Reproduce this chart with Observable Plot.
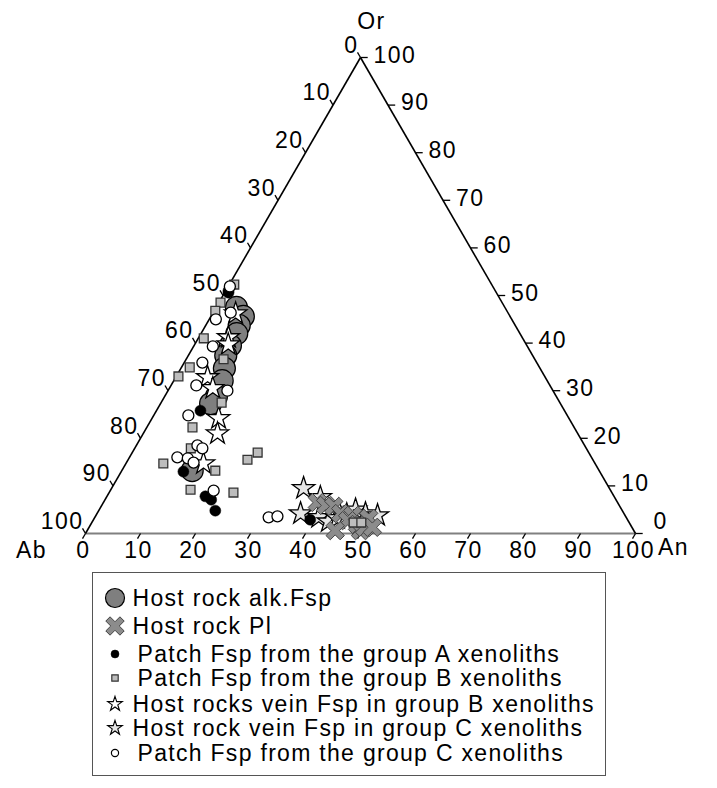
<!DOCTYPE html>
<html><head><meta charset="utf-8">
<script src="https://cdn.jsdelivr.net/npm/d3@7"></script>
<script src="https://cdn.jsdelivr.net/npm/@observablehq/plot@0.6"></script>
<style>
body{margin:0;background:#fff;font-family:"Liberation Sans",Arial,sans-serif;}
#wrap{position:relative;width:717px;height:788px;}
#chart svg text{letter-spacing:1.5px;}
#legend{position:absolute;left:92px;top:572px;width:514px;height:204px;border:1.5px solid #555;box-sizing:border-box;}
.row{position:absolute;left:0;height:26px;line-height:26px;font-size:23px;letter-spacing:1.3px;white-space:nowrap;color:#000;}
.row svg{position:absolute;top:0;}
.row span{position:absolute;top:0;}
</style></head><body><div id="wrap"><div id="chart"></div><div id="legend"></div></div>
<script>
// tick values / labels for the three axes
const tickValues = [0,10,20,30,40,50,60,70,80,90,100];
const tickLabels = tickValues.map(String);
const axisTitles = ["Ab","An","Or"];

// data rows: [Ab, An, Or] in percent
const hostAlkFsp = [
  [48.8,3.7,47.5],[48.5,5.9,45.6],[50.2,6.1,43.7],[51.5,6.5,42.0],[53.9,6.6,39.5],
  [55.8,6.8,37.4],[57.4,7.9,34.7],[59.1,8.8,32.1],[61.8,9.4,28.8],[63.6,9.1,27.3],[74.0,12.8,13.2]
];
const hostPl = [
  [54.6,38.9,6.5],[53.4,40.7,5.9],[52.0,42.3,5.7],[51.5,44.3,4.2],[49.5,46.7,3.8],[51.0,46.3,2.7],
  [49.6,48.5,1.9],[54.3,45.1,0.6],[49.7,49.7,0.6],[48.6,50.1,1.3],[46.9,49.9,3.2],[47.2,51.5,1.3]
];
const patchA = [
  [48.5,0.5,51.0],[48.7,0.7,50.6],[66.2,8.0,25.8],[75.7,11.3,13.0],[74.3,17.9,7.8],
  [73.6,19.3,7.1],[74.0,21.2,4.8],[57.7,39.4,2.9]
];
const patchB = [
  [46.8,0.9,52.3],[51.2,0.3,48.5],[53.0,0.2,46.8],[58.0,1.0,41.0],[63.6,1.5,34.9],[66.6,0.4,33.0],
  [56.6,6.8,36.6],[61.5,11.0,27.5],[69.4,8.3,22.3],[71.9,10.2,17.9],[78.5,6.8,14.7],[69.8,17.0,13.2],
  [76.3,14.5,9.2],[62.8,21.7,15.5],[60.2,22.8,17.0],[68.8,22.6,8.6],[50.1,47.6,2.3],[48.7,49.0,2.3]
];
const veinB = [
  [49.6,4.2,46.2],[53.4,5.4,41.2],[54.2,6.1,39.7],[61.4,5.8,32.8],[61.6,7.9,30.5],
  [63.7,12.1,24.2],[65.5,13.5,21.0],[71.2,14.1,14.7]
];
const veinC = [
  [55.6,34.9,9.5],[53.5,38.9,7.6],[58.8,37.0,4.2],[55.9,40.7,3.4],[54.6,42.9,2.5],[51.6,43.6,4.8],
  [52.6,44.2,3.2],[50.5,45.5,4.0],[48.4,46.6,5.0],[47.0,48.8,4.2],[45.0,51.2,3.8]
];
const patchC = [
  [47.8,0.3,51.9],[50.4,3.2,46.4],[53.8,1.2,45.0],[57.2,3.5,39.3],[60.8,3.3,35.9],[64.3,4.6,31.1],
  [59.2,10.8,30.0],[68.9,6.3,24.8],[70.4,11.1,18.5],[69.8,12.3,17.9],[75.3,8.7,16.0],[73.5,10.7,15.8],
  [72.9,12.2,14.9],[72.2,18.8,9.0],[65.0,31.6,3.4],[63.3,33.1,3.6]
];
const legendLabels = [
  "Host rock alk.Fsp",
  "Host rock Pl",
  "Patch Fsp from the group A xenoliths",
  "Patch Fsp from the group B xenoliths",
  "Host rocks vein Fsp in group B xenoliths",
  "Host rock vein Fsp in group C xenoliths",
  "Patch Fsp from the group C xenoliths"
];

const S = Math.sqrt(3) / 2;
const tx = d => d[1] + d[2] / 2;   // An + Or/2
const ty = d => d[2] * S;          // Or * sqrt(3)/2

// thick X symbol
const symbolThickX = {
  draw(ctx, size) {
    const r = Math.sqrt(size / Math.PI), L = r, t = r * 0.3;
    const pts = [[-t,-L],[t,-L],[t,-t],[L,-t],[L,t],[t,t],[t,L],[-t,L],[-t,t],[-L,t],[-L,-t],[-t,-t]];
    const c = Math.SQRT1_2;
    pts.forEach(([x,y],i) => {
      const X = (x - y) * c, Y = (x + y) * c;
      i ? ctx.lineTo(X, Y) : ctx.moveTo(X, Y);
    });
    ctx.closePath();
  }
};

const FONT = 23;
const tl = 6 / 5.5; // tick length in data units
const rightVals = tickValues.filter(v => v > 0);

const sideBL = [{x1:0,y1:0,x2:100,y2:0}];
const sidesLR = [{x1:0,y1:0,x2:50,y2:100*S},{x1:50,y1:100*S,x2:100,y2:0}];

const plot = Plot.plot({
  width: 717, height: 570, margin: 0,
  x: {domain: [0, 100], range: [85, 635], axis: null},
  y: {domain: [0, 100 * S], range: [533, 57], axis: null},
  style: {fontFamily: '"Liberation Sans", Arial, sans-serif', background: "white", overflow: "visible"},
  marks: [
    Plot.link(sideBL, {x1:"x1", y1:"y1", x2:"x2", y2:"y2", stroke: "#808080", strokeWidth: 2.2}),
    Plot.link(sidesLR, {x1:"x1", y1:"y1", x2:"x2", y2:"y2", stroke: "#000", strokeWidth: 1.6}),
    // bottom (An) ticks
    Plot.link(tickValues, {x1: v => v, y1: () => 0, x2: v => v - 0.5 * tl, y2: () => -S * tl, stroke: "#000", strokeWidth: 1.3}),
    // left (Ab) ticks
    Plot.link(tickValues, {x1: v => (100 - v) / 2, y1: v => (100 - v) * S, x2: v => (100 - v) / 2 - 0.5 * tl, y2: v => (100 - v) * S + S * tl, stroke: "#000", strokeWidth: 1.3}),
    // right (Or) ticks
    Plot.link(tickValues, {x1: v => 100 - v / 2, y1: v => v * S, x2: v => 100 - v / 2 + 1.2 * tl, y2: v => v * S, stroke: "#000", strokeWidth: 1.3}),
    Plot.text(tickValues, {x: v => v, y: () => 0, text: (v, i) => tickLabels[i], dy: 17, dx: -2, fontSize: FONT, textAnchor: "middle"}),
    Plot.text(tickValues, {x: v => (100 - v) / 2, y: v => (100 - v) * S, text: (v, i) => tickLabels[i], dx: -2, dy: -12, fontSize: FONT, textAnchor: "end"}),
    Plot.text(rightVals, {x: v => 100 - v / 2, y: v => v * S, text: v => tickLabels[tickValues.indexOf(v)], dx: 13, dy: -2, fontSize: FONT, textAnchor: "start"}),
    Plot.text([tickLabels[0]], {x: () => 100, y: () => 0, text: d => d, dx: 18, dy: -12, fontSize: FONT, textAnchor: "start"}),
    // axis titles at the vertices
    Plot.text([axisTitles[0]], {x: () => 0, y: () => 0, text: d => d, dx: -54, dy: 17, fontSize: FONT, textAnchor: "middle"}),
    Plot.text([axisTitles[1]], {x: () => 100, y: () => 0, text: d => d, dx: 38, dy: 14, fontSize: FONT, textAnchor: "middle"}),
    Plot.text([axisTitles[2]], {x: () => 50, y: () => 100 * S, text: d => d, dx: 11, dy: -36, fontSize: FONT, textAnchor: "middle"}),
    // data
    Plot.dot(hostAlkFsp, {x: tx, y: ty, r: 11, symbol: "circle", fill: "#7f7f7f", stroke: "#000", strokeWidth: 1.2}),
    Plot.dot(veinB, {x: tx, y: ty, r: 7, symbol: d3.symbolStar, fill: "#fff", stroke: "#000", strokeWidth: 1.3}),
    Plot.dot(veinC, {x: tx, y: ty, r: 7, symbol: d3.symbolStar, fill: "#e6e6e6", stroke: "#000", strokeWidth: 1.3}),
    Plot.dot(hostPl, {x: tx, y: ty, r: 10, symbol: symbolThickX, fill: "#8c8c8c", stroke: "#444", strokeWidth: 1}),
    Plot.dot(patchB, {x: tx, y: ty, r: 5, symbol: "square", fill: "#bdbdbd", stroke: "#333", strokeWidth: 1.3}),
    Plot.dot(patchA, {x: tx, y: ty, r: 5.5, symbol: "circle", fill: "#000", stroke: "#000", strokeWidth: 0.5}),
    Plot.dot(patchC, {x: tx, y: ty, r: 5.5, symbol: "circle", fill: "#fff", stroke: "#000", strokeWidth: 1.3})
  ]
});
document.getElementById("chart").appendChild(plot);

// legend
const legendIcons = [
  {sym: d3.symbolCircle, r: 9.5, fill: "#7f7f7f", stroke: "#000", sw: 1.2, tx: 41},
  {sym: symbolThickX, r: 10, fill: "#8c8c8c", stroke: "#444", sw: 1, tx: 41},
  {sym: d3.symbolCircle, r: 4, fill: "#000", stroke: "#000", sw: 0.5, tx: 46},
  {sym: d3.symbolSquare, r: 3.6, fill: "#bdbdbd", stroke: "#333", sw: 1.2, tx: 46},
  {sym: d3.symbolStar, r: 4.6, fill: "#fff", stroke: "#000", sw: 1.1, tx: 41},
  {sym: d3.symbolStar, r: 4.6, fill: "#e6e6e6", stroke: "#000", sw: 1.1, tx: 41},
  {sym: d3.symbolCircle, r: 3.6, fill: "#fff", stroke: "#000", sw: 1.2, tx: 46}
];
const rowCenters = [25, 53, 81, 105, 131, 155, 180];
const leg = document.getElementById("legend");
legendLabels.forEach((lab, i) => {
  const ic = legendIcons[i];
  const row = document.createElement("div");
  row.className = "row";
  row.style.top = (rowCenters[i] - 13) + "px";
  row.style.width = "510px";
  const d = d3.symbol(ic.sym, Math.PI * ic.r * ic.r)();
  row.innerHTML = `<svg width="26" height="26" style="left:9px"><path d="${d}" transform="translate(13,13)" fill="${ic.fill}" stroke="${ic.stroke}" stroke-width="${ic.sw}"/></svg><span style="left:${ic.tx - 1.5}px">${lab}</span>`;
  leg.appendChild(row);
});
</script></body></html>
